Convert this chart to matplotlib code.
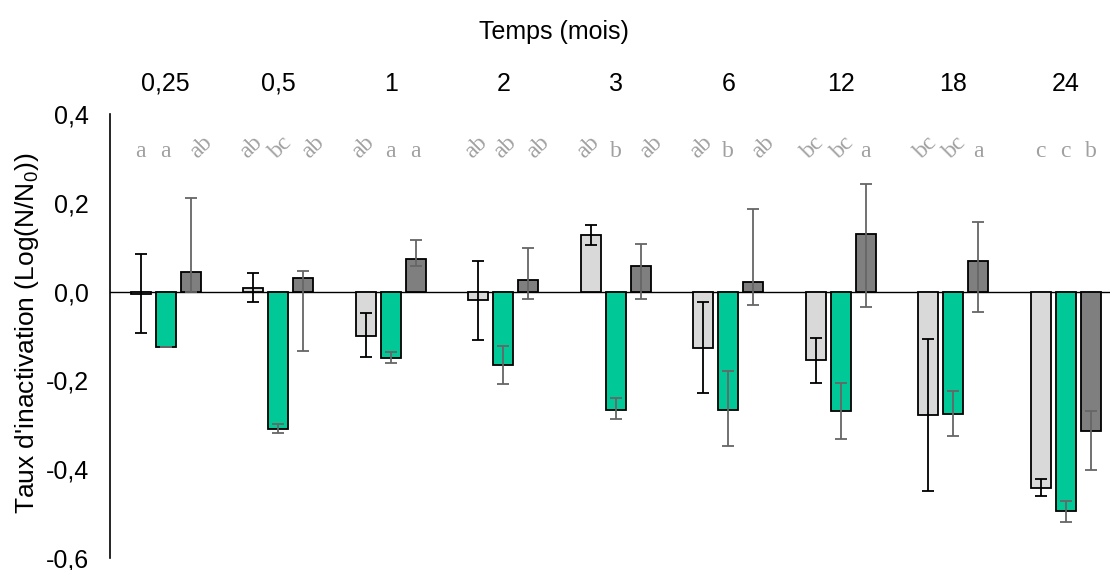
import numpy as np
import matplotlib
matplotlib.use("Agg")
import matplotlib.pyplot as plt

# Temps (mois)
categories = ['0,25', '0,5', '1', '2', '3', '6', '12', '18', '24']

# valeurs moyennes (Log(N/N0)) par série
light = [-0.005, 0.008, -0.100, -0.019, 0.128, -0.126, -0.155, -0.278, -0.442]
green = [-0.124, -0.309, -0.149, -0.165, -0.266, -0.266, -0.269, -0.275, -0.495]
dark = [0.044, 0.030, 0.073, 0.026, 0.058, 0.021, 0.130, 0.068, -0.315]

# bornes des barres d'erreur (bas / haut)
light_lo = [-0.093, -0.024, -0.148, -0.108, 0.106, -0.228, -0.205, -0.448, -0.460]
light_hi = [0.084, 0.041, -0.048, 0.069, 0.150, -0.023, -0.105, -0.107, -0.423]
green_lo = [-0.124, -0.319, -0.160, -0.208, -0.286, -0.347, -0.333, -0.325, -0.519]
green_hi = [-0.124, -0.299, -0.135, -0.122, -0.239, -0.178, -0.206, -0.224, -0.471]
dark_lo = [0.0, -0.133, 0.057, -0.017, -0.017, -0.030, -0.035, -0.045, -0.402]
dark_hi = [0.210, 0.046, 0.116, 0.099, 0.107, 0.186, 0.242, 0.156, -0.268]

# lettres de significativité
letters_light = ['a', 'ab', 'ab', 'ab', 'ab', 'ab', 'bc', 'bc', 'c']
letters_green = ['a', 'bc', 'a', 'ab', 'b', 'b', 'bc', 'bc', 'c']
letters_dark = ['ab', 'ab', 'a', 'ab', 'ab', 'ab', 'a', 'a', 'b']

yticks = [0.4, 0.2, 0.0, -0.2, -0.4, -0.6]
ytick_labels = ['0,4', '0,2', '0,0', '-0,2', '-0,4', '-0,6']

plt.rcParams['font.family'] = ['Liberation Sans', 'DejaVu Sans']
plt.rcParams['mathtext.fontset'] = 'custom'
plt.rcParams['mathtext.rm'] = 'Liberation Sans'

fig = plt.figure(figsize=(11.1, 5.7), dpi=100)
ax = fig.add_axes([109.5 / 1110, 1 - 558 / 570, 1 - 109.5 / 1110, 444 / 570])

x = np.arange(len(categories))
w = 0.178
off = 0.222

# (valeurs, bas, haut, couleur, couleur erreur, lettres, décalage, décalage lettre pivotée)
series = [
    (light, light_lo, light_hi, '#d9d9d9', 'black', letters_light, -off, -0.02),
    (green, green_lo, green_hi, '#00c896', '#666666', letters_green, 0.0, 0.02),
    (dark, dark_lo, dark_hi, '#7f7f7f', '#666666', letters_dark, off, 0.09),
]

ax.axhline(0, color='black', lw=1.0, zorder=1)

for vals, lo, hi, col, ecol, lets, dx, ldx in series:
    vals = np.array(vals)
    yerr = [vals - np.array(lo), np.array(hi) - vals]
    ax.bar(x + dx, vals, width=w, color=col, edgecolor='black', linewidth=1.3, zorder=2)
    ax.errorbar(x + dx, vals, yerr=yerr, fmt='none', ecolor=ecol, elinewidth=1.3,
                capsize=4.3, capthick=1.3, zorder=3)
    for xi, t in zip(x + dx, lets):
        if len(t) > 1:
            ax.text(xi + ldx, 0.325, t, ha='center', va='center', rotation=45,
                    fontsize=17, color='#a0a0a0', family='Liberation Serif')
        else:
            ax.text(xi, 0.315, t, ha='center', va='center',
                    fontsize=17, color='#a0a0a0', family='Liberation Serif')

ax.set_xlim(-0.5, 8.394)
ax.set_ylim(-0.6, 0.4)

ax.set_yticks(yticks)
ax.set_yticklabels(ytick_labels)
ax.tick_params(axis='y', length=0, pad=15, labelsize=18)

ax.set_xticks(x)
ax.set_xticklabels(categories)
ax.xaxis.tick_top()
ax.tick_params(axis='x', length=0, pad=13, labelsize=18)

for s in ['top', 'right', 'bottom']:
    ax.spines[s].set_visible(False)
ax.spines['left'].set_linewidth(1.2)

fig.text(554 / 1110, 1 - 32 / 570, 'Temps (mois)', ha='center', va='center', fontsize=18)
fig.text(27 / 1110, 1 - 333 / 570, "Taux d'inactivation (Log(N/N$_0$))", ha='center',
         va='center', rotation=90, fontsize=19)

fig.savefig('out.png', dpi=100)
